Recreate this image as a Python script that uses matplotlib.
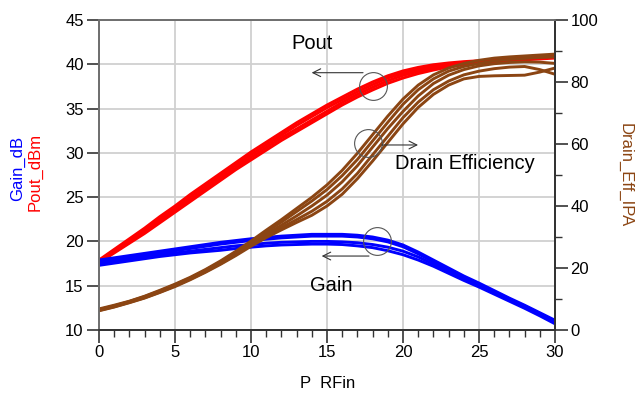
import matplotlib
matplotlib.use("Agg")
import matplotlib.pyplot as plt
from matplotlib.ticker import MultipleLocator

plt.rcParams['font.family'] = ['Liberation Sans', 'DejaVu Sans']

# ---- data ----
p_rfin = list(range(0, 31))

pout_dbm = [
    [17.9, 19.1, 20.3, 21.5, 22.8, 24.0, 25.3, 26.5, 27.7, 28.9, 30.1, 31.2, 32.3, 33.4, 34.4, 35.4,
     36.3, 37.2, 38.0, 38.7, 39.25, 39.65, 39.95, 40.15, 40.3, 40.4, 40.5, 40.6, 40.7, 40.8, 41.0],
    [17.8, 19.0, 20.1, 21.3, 22.5, 23.7, 25.0, 26.2, 27.4, 28.6, 29.8, 30.9, 32.0, 33.1, 34.1, 35.1,
     36.0, 36.9, 37.7, 38.45, 39.0, 39.45, 39.75, 39.98, 40.15, 40.3, 40.45, 40.55, 40.65, 40.75, 40.9],
    [17.7, 18.8, 19.9, 21.1, 22.3, 23.5, 24.7, 25.9, 27.1, 28.3, 29.5, 30.6, 31.7, 32.7, 33.7, 34.7,
     35.7, 36.6, 37.4, 38.15, 38.75, 39.2, 39.55, 39.85, 40.05, 40.2, 40.35, 40.5, 40.6, 40.7, 40.8],
    [17.6, 18.7, 19.8, 20.9, 22.1, 23.3, 24.5, 25.7, 26.9, 28.1, 29.2, 30.3, 31.4, 32.4, 33.4, 34.4,
     35.4, 36.3, 37.1, 37.85, 38.45, 38.95, 39.35, 39.7, 39.95, 40.1, 40.25, 40.4, 40.5, 40.6, 40.7],
]

gain_db = [
    [17.9, 18.15, 18.4, 18.65, 18.9, 19.15, 19.4, 19.65, 19.9, 20.1, 20.3, 20.45, 20.6, 20.7, 20.8, 20.8,
     20.8, 20.7, 20.5, 20.15, 19.6, 18.8, 17.9, 17.0, 16.1, 15.3, 14.45, 13.6, 12.8, 11.95, 11.1],
    [17.7, 17.95, 18.2, 18.45, 18.7, 18.95, 19.2, 19.45, 19.7, 19.9, 20.1, 20.25, 20.4, 20.5, 20.6, 20.6,
     20.6, 20.5, 20.3, 19.95, 19.4, 18.6, 17.7, 16.8, 15.95, 15.15, 14.3, 13.5, 12.7, 11.85, 11.0],
    [17.5, 17.75, 18.0, 18.25, 18.5, 18.7, 18.9, 19.1, 19.3, 19.5, 19.65, 19.8, 19.9, 19.95, 20.0, 20.0,
     19.95, 19.85, 19.65, 19.35, 18.9, 18.25, 17.45, 16.6, 15.8, 15.0, 14.2, 13.4, 12.6, 11.75, 10.9],
    [17.3, 17.55, 17.8, 18.05, 18.3, 18.5, 18.7, 18.85, 19.0, 19.2, 19.35, 19.5, 19.6, 19.65, 19.7, 19.7,
     19.65, 19.5, 19.3, 18.95, 18.5, 17.9, 17.2, 16.4, 15.6, 14.85, 14.05, 13.25, 12.45, 11.6, 10.7],
]

drain_eff = [
    [6.8, 8.0, 9.3, 10.9, 12.8, 14.8, 17.0, 19.5, 22.3, 25.4, 28.7, 32.2, 35.6, 39.2, 42.8, 46.8,
     51.5, 57.0, 63.0, 69.0, 74.5, 79.0, 82.3, 84.5, 86.0, 87.0, 87.7, 88.1, 88.4, 88.7, 89.0],
    [6.6, 7.8, 9.2, 10.8, 12.6, 14.6, 16.8, 19.3, 22.0, 25.0, 28.3, 31.6, 34.8, 38.2, 41.6, 45.3,
     49.8, 55.0, 61.0, 67.0, 72.8, 77.5, 81.0, 83.5, 85.0, 86.0, 86.8, 87.3, 87.6, 87.9, 88.1],
    [6.5, 7.7, 9.1, 10.6, 12.4, 14.4, 16.6, 19.0, 21.7, 24.6, 27.8, 30.9, 33.8, 36.8, 40.0, 43.5,
     47.8, 53.0, 59.0, 65.0, 70.5, 75.5, 79.5, 82.2, 84.0, 85.2, 85.9, 86.3, 86.5, 86.4, 86.0],
    [6.3, 7.5, 8.9, 10.4, 12.2, 14.2, 16.4, 18.8, 21.4, 24.3, 27.4, 30.3, 33.0, 35.6, 38.3, 41.5,
     45.5, 50.5, 56.5, 62.5, 68.5, 73.5, 77.5, 80.3, 82.3, 83.5, 84.3, 84.8, 85.0, 84.0, 82.5],
    [6.2, 7.4, 8.8, 10.3, 12.1, 14.0, 16.2, 18.6, 21.2, 24.0, 27.0, 29.8, 32.3, 34.7, 37.0, 40.0,
     43.8, 48.8, 54.5, 60.5, 66.5, 71.8, 76.0, 79.0, 81.0, 81.8, 82.0, 82.1, 82.2, 83.2, 84.5],
]

RED = '#ff0000'
BLUE = '#0000ff'
BROWN = '#8b4513'

fig = plt.figure(figsize=(6.35, 3.95), dpi=100)
ax = fig.add_axes([99/635, 1-330/395, 456/635, 310/395])
ax2 = ax.twinx()

for ys in pout_dbm:
    ax.plot(p_rfin, ys, color=RED, lw=2.1)
for ys in gain_db:
    ax.plot(p_rfin, ys, color=BLUE, lw=2.1)
for ys in drain_eff:
    ax2.plot(p_rfin, ys, color=BROWN, lw=2.1)

ax.set_xlim(0, 30)
ax.set_ylim(10, 45)
ax2.set_ylim(0, 100)

ax.xaxis.set_major_locator(MultipleLocator(5))
ax.xaxis.set_minor_locator(MultipleLocator(1))
ax.yaxis.set_major_locator(MultipleLocator(5))
ax2.yaxis.set_major_locator(MultipleLocator(20))
ax2.yaxis.set_minor_locator(MultipleLocator(10))

ax.grid(True, which='major', color='#d0d0d0', lw=1.3)
ax.set_axisbelow(True)

tick_col = '#333333'
ax.tick_params(axis='both', which='major', length=9, width=1.2, color=tick_col,
               labelsize=12, direction='out', pad=2)
ax.tick_params(axis='x', which='minor', length=5, width=1.0, color=tick_col, direction='out')
ax2.tick_params(axis='y', which='major', length=9, width=1.2, color=tick_col,
                labelsize=12, direction='out', pad=2)
ax2.tick_params(axis='y', which='minor', length=5, width=1.0, color=tick_col, direction='out')

for a in (ax, ax2):
    a.spines['left'].set_color('#707070')
    a.spines['top'].set_color('#707070')
    a.spines['bottom'].set_color('#333333')
    a.spines['right'].set_color('#333333')
    for s in a.spines.values():
        s.set_linewidth(1.3)

# axis labels
fig.text(18/635, 1-168/395, 'Gain_dB', color=BLUE, rotation=90, fontsize=12,
         ha='center', va='center')
fig.text(35/635, 1-172/395, 'Pout_dBm', color=RED, rotation=90, fontsize=12,
         ha='center', va='center')
fig.text(625/635, 1-175/395, 'Drain_Eff_IPA', color=BROWN, rotation=270, fontsize=12,
         ha='center', va='center')
fig.text(328/635, 1-383/395, 'P  RFin', color='black', fontsize=12,
         ha='center', va='center')

# annotations, drawn on the top (twin) axes using left-axis data coordinates
tr = ax.transData
circ_kw = dict(marker='o', ms=20, mfc='none', mec='#555555', mew=0.8, ls='none',
               zorder=10, transform=tr, clip_on=False)
arrow_kw = dict(arrowstyle='->', lw=0.8, color='#333333', mutation_scale=14,
                shrinkA=0, shrinkB=0)

ax2.plot([18.05], [37.55], **circ_kw)
ax2.annotate('', xy=(13.99, 39.05), xytext=(17.37, 39.05), xycoords=tr, textcoords=tr,
             arrowprops=arrow_kw, zorder=10)
ax2.text(14.01, 42.4, 'Pout', fontsize=14.5, ha='center', va='center', transform=tr)

ax2.plot([17.68], [31.08], **circ_kw)
ax2.annotate('', xy=(20.99, 30.89), xytext=(18.62, 30.89), xycoords=tr, textcoords=tr,
             arrowprops=arrow_kw, zorder=10)
ax2.text(19.47, 28.85, 'Drain Efficiency', fontsize=14.5, ha='left', va='center', transform=tr)

ax2.plot([18.27], [20.08], **circ_kw)
ax2.annotate('', xy=(14.65, 18.35), xytext=(17.76, 18.35), xycoords=tr, textcoords=tr,
             arrowprops=arrow_kw, zorder=10)
ax2.text(15.26, 15.08, 'Gain', fontsize=14.5, ha='center', va='center', transform=tr)

fig.savefig('out.png', dpi=100)
